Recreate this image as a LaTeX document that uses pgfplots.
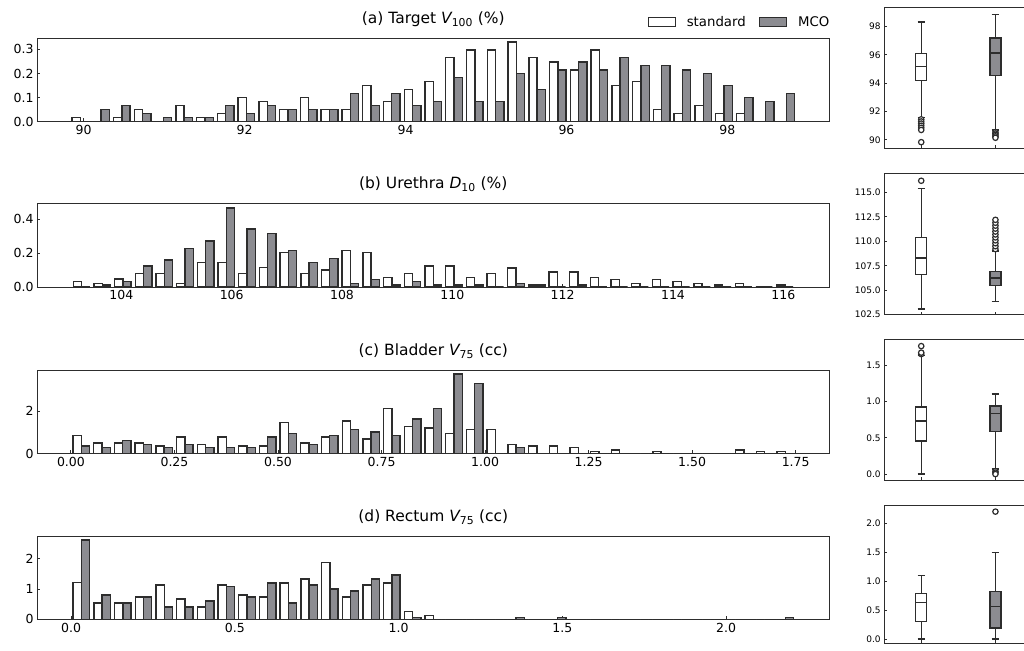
\documentclass[border=0pt]{standalone}
\usepackage{fontspec}
\setmainfont{DejaVu Sans}
\usepackage{pgfplots}
\pgfplotsset{compat=1.18}
\usepackage{pgfplotstable}
\usepgfplotslibrary{statistics}
\definecolor{mcogray}{RGB}{140,140,145}
\definecolor{edge}{RGB}{45,45,45}

\pgfplotstableread{
x s m
89.959 0.017 0
90.217 0 0.050
90.475 0.017 0.066
90.733 0.050 0.033
90.991 0 0.017
91.249 0.066 0.017
91.507 0.017 0.017
91.765 0.033 0.066
92.023 0.100 0.033
92.281 0.083 0.066
92.539 0.050 0.050
92.797 0.100 0.050
93.055 0.050 0.050
93.313 0.050 0.116
93.571 0.149 0.066
93.829 0.083 0.116
94.087 0.133 0.066
94.345 0.166 0.083
94.603 0.265 0.182
94.861 0.298 0.083
95.119 0.298 0.083
95.377 0.331 0.199
95.635 0.265 0.133
95.893 0.248 0.215
96.151 0.215 0.248
96.409 0.298 0.215
96.667 0.149 0.265
96.925 0.166 0.232
97.183 0.050 0.232
97.441 0.033 0.215
97.699 0.066 0.199
97.957 0.033 0.149
98.215 0.033 0.100
98.473 0 0.083
98.731 0 0.116
}\tabA

\pgfplotstableread{
x s m
103.278 0.035 0
103.653 0.022 0.012
104.028 0.047 0.035
104.403 0.081 0.124
104.778 0.081 0.160
105.153 0.022 0.227
105.528 0.146 0.272
105.903 0.146 0.465
106.278 0.081 0.341
106.653 0.114 0.317
107.028 0.203 0.215
107.403 0.081 0.146
107.778 0.102 0.169
108.153 0.215 0.022
108.528 0.203 0.045
108.903 0.057 0.012
109.278 0.081 0.035
109.653 0.124 0.012
110.028 0.124 0.012
110.403 0.057 0.012
110.778 0.079 0
111.153 0.112 0.022
111.528 0.012 0.012
111.903 0.090 0
112.278 0.090 0.012
112.653 0.057 0
113.028 0.045 0
113.403 0.022 0
113.778 0.045 0
114.153 0.035 0
114.528 0.022 0
114.903 0.012 0
115.278 0.022 0
115.653 0 0
116.028 0.012 0
}\tabB

\pgfplotstableread{
x s m
0.025 0.85 0.35
0.075 0.50 0.27
0.125 0.50 0.61
0.175 0.50 0.43
0.225 0.35 0.27
0.275 0.77 0.43
0.325 0.43 0.27
0.375 0.77 0.27
0.425 0.35 0.27
0.475 0.35 0.77
0.525 1.45 0.94
0.575 0.50 0.43
0.625 0.77 0.85
0.675 1.54 1.12
0.725 0.69 1.02
0.775 2.13 0.85
0.825 1.28 1.62
0.875 1.20 2.13
0.925 0.94 3.75
0.975 1.12 3.31
1.025 1.12 0
1.075 0.43 0.27
1.125 0.35 0
1.175 0.35 0
1.225 0.27 0
1.275 0.09 0
1.325 0.17 0
1.375 0 0
1.425 0.09 0
1.475 0 0
1.525 0 0
1.575 0 0
1.625 0.17 0
1.675 0.09 0
1.725 0.09 0
}\tabC

\pgfplotstableread{
x s m
0.0316 1.22 2.62
0.0948 0.54 0.81
0.1580 0.54 0.54
0.2212 0.74 0.74
0.2844 1.14 0.41
0.3476 0.67 0.41
0.4108 0.41 0.61
0.4740 1.14 1.08
0.5372 0.81 0.74
0.6004 0.74 1.20
0.6636 1.20 0.54
0.7268 1.34 1.14
0.7900 1.88 1.00
0.8532 0.74 0.94
0.9164 1.14 1.34
0.9796 1.20 1.47
1.0428 0.27 0.07
1.1060 0.13 0
1.1692 0 0
1.2324 0 0
1.2956 0 0
1.3588 0 0.07
1.4220 0 0
1.4852 0 0.07
1.5484 0 0
1.6116 0 0
1.6748 0 0
1.7380 0 0
1.8012 0 0
1.8644 0 0
1.9276 0 0
1.9908 0 0
2.0540 0 0
2.1172 0 0
2.1804 0 0.07
}\tabD

\tikzset{
  wbox/.style={draw=edge, fill=white, line width=1.3pt},
  gbox/.style={draw=edge, fill=mcogray, line width=1.3pt},
}
\pgfplotsset{
  histax/.style={scale only axis, width=793pt, height=83.4pt, anchor=south west,
    ymin=0, tick align=inside, tick pos=left, major tick length=3.5pt,
    axis line style={draw=edge, line width=0.9pt},
    every tick/.style={draw=edge, line width=0.9pt},
    ticklabel style={font=\fontsize{12.5}{14}\selectfont},
    title style={font=\fontsize{15.5}{17}\selectfont, at={(0.5,1)}, anchor=base, yshift=9pt}},
  boxax/.style={scale only axis, width=139.5pt, height=141pt, anchor=south west,
    axis x line*=box, axis y line*=left,
    xmin=0.5, xmax=2.3788, xtick={1,2}, xticklabels={},
    tick align=inside, tick pos=left, major tick length=3pt,
    axis line style={draw=edge, line width=0.9pt},
    every tick/.style={draw=edge, line width=0.9pt},
    ticklabel style={font=\fontsize{9}{10}\selectfont},
    boxplot/draw direction=y},
  sbar/.style 2 args={ybar, bar width=#1, bar shift=#2, fill=white, draw=edge, line width=1.4pt},
  mbar/.style 2 args={ybar, bar width=#1, bar shift=#2, fill=mcogray, draw=edge, line width=1.4pt},
  rectleg/.style={legend image code/.code={\draw[##1, line width=1.3pt] (0pt,-4.5pt) rectangle (27pt,4.5pt);}},
  bstd/.style={draw=edge, line width=1.3pt, mark=*, mark size=2.7pt,
    mark options={fill=white, draw=edge, line width=1.2pt, solid}},
}

\begin{document}
\begin{tikzpicture}
\path (0pt,0pt) rectangle (1024pt,644pt);

% ---------- (a) ----------
\begin{axis}[histax, at={(37pt,522.3pt)}, xmin=89.42, xmax=99.27, ymax=0.346,
  xtick={90,92,94,96,98}, xticklabels={90,92,94,96,98},
  ytick={0,0.1,0.2,0.3}, yticklabels={0.0,0.1,0.2,0.3},
  title={(a) Target {\itshape V}\textsubscript{100} (\%)},
  legend style={at={(0.770,1.192)}, anchor=west, draw=none, fill=none, inner sep=0pt,
    font=\fontsize{13.3}{15}\selectfont, legend columns=2,
    nodes={inner sep=0pt},
    /tikz/every odd column/.append style={column sep=11pt},
    /tikz/every even column/.append style={column sep=13pt}}]
\addplot[sbar={0.1032}{-0.0516}, rectleg] table[x=x,y=s]{\tabA};
\addlegendentry{standard}
\addplot[mbar={0.1032}{0.0516}, rectleg] table[x=x,y=m]{\tabA};
\addlegendentry{MCO}
\end{axis}

% ---------- (b) ----------
\begin{axis}[histax, at={(37pt,356.7pt)}, xmin=102.47, xmax=116.84, ymax=0.49,
  xtick={104,106,108,110,112,114,116}, xticklabels={104,106,108,110,112,114,116},
  ytick={0,0.2,0.4}, yticklabels={0.0,0.2,0.4},
  title={(b) Urethra {\itshape D}\textsubscript{10} (\%)}]
\addplot[sbar={0.15}{-0.075}] table[x=x,y=s]{\tabB};
\addplot[mbar={0.15}{0.075}] table[x=x,y=m]{\tabB};
\end{axis}

% ---------- (c) ----------
\begin{axis}[histax, at={(37pt,190.3pt)}, xmin=-0.082, xmax=1.832, ymax=3.93,
  xtick={0,0.25,0.5,0.75,1,1.25,1.5,1.75}, xticklabels={0.00,0.25,0.50,0.75,1.00,1.25,1.50,1.75},
  ytick={0,2}, yticklabels={0,2},
  title={(c) Bladder {\itshape V}\textsubscript{75} (cc)}]
\addplot[sbar={0.02}{-0.01}] table[x=x,y=s]{\tabC};
\addplot[mbar={0.02}{0.01}] table[x=x,y=m]{\tabC};
\end{axis}

% ---------- (d) ----------
\begin{axis}[histax, at={(37pt,24.3pt)}, xmin=-0.104, xmax=2.316, ymax=2.75,
  xtick={0,0.5,1,1.5,2}, xticklabels={0.0,0.5,1.0,1.5,2.0},
  ytick={0,1,2}, yticklabels={0,1,2},
  title={(d) Rectum {\itshape V}\textsubscript{75} (cc)}]
\addplot[sbar={0.02528}{-0.01264}] table[x=x,y=s]{\tabD};
\addplot[mbar={0.02528}{0.01264}] table[x=x,y=m]{\tabD};
\end{axis}

% ---------- box plots ----------
\begin{axis}[boxax, at={(884.5pt,495.7pt)}, ymin=89.41, ymax=99.36,
  ytick={90,92,94,96,98}, yticklabels={90,92,94,96,98}]
\addplot[bstd, boxplot prepared={draw position=1, median=95.18, upper quartile=96.12,
  lower quartile=94.2, upper whisker=98.33, lower whisker=91.6, box extend=0.15, whisker extend=0.1,
  every box/.style={wbox}}]
  table[row sep=\\, y index=0]{data\\91.45\\91.3\\91.15\\91.0\\90.85\\90.7\\89.84\\};
\addplot[bstd, boxplot prepared={draw position=2, median=96.14, upper quartile=97.2,
  lower quartile=94.56, upper whisker=98.86, lower whisker=90.7, box extend=0.15, whisker extend=0.1,
  every box/.style={gbox}}]
  table[row sep=\\, y index=0]{data\\90.55\\90.45\\90.35\\90.25\\90.15\\};
\end{axis}

\begin{axis}[boxax, at={(884.5pt,329pt)}, ymin=102.47, ymax=116.9,
  ytick={102.5,105,107.5,110,112.5,115}, yticklabels={102.5,105.0,107.5,110.0,112.5,115.0}]
\addplot[bstd, boxplot prepared={draw position=1, median=108.29, upper quartile=110.38,
  lower quartile=106.58, upper whisker=115.38, lower whisker=103.08, box extend=0.15, whisker extend=0.1,
  every box/.style={wbox}}]
  table[row sep=\\, y index=0]{data\\116.2\\};
\addplot[bstd, boxplot prepared={draw position=2, median=106.24, upper quartile=106.92,
  lower quartile=105.45, upper whisker=109.0, lower whisker=103.84, box extend=0.15, whisker extend=0.1,
  every box/.style={gbox}}]
  table[row sep=\\, y index=0]{data\\109.2\\109.5\\109.8\\110.1\\110.4\\110.7\\111.0\\111.3\\111.6\\111.9\\112.2\\};
\end{axis}

\begin{axis}[boxax, at={(884.5pt,163.3pt)}, ymin=-0.088, ymax=1.85,
  ytick={0,0.5,1,1.5}, yticklabels={0.0,0.5,1.0,1.5}]
\addplot[bstd, boxplot prepared={draw position=1, median=0.732, upper quartile=0.924,
  lower quartile=0.457, upper whisker=1.63, lower whisker=0.0, box extend=0.15, whisker extend=0.1,
  every box/.style={wbox}}]
  table[row sep=\\, y index=0]{data\\1.65\\1.67\\1.76\\};
\addplot[bstd, boxplot prepared={draw position=2, median=0.837, upper quartile=0.937,
  lower quartile=0.59, upper whisker=1.10, lower whisker=0.07, box extend=0.15, whisker extend=0.1,
  every box/.style={gbox}}]
  table[row sep=\\, y index=0]{data\\0.04\\0.02\\0.0\\};
\end{axis}

\begin{axis}[boxax, at={(884.5pt,0.5pt)}, height=138.2pt, ymin=-0.0714, ymax=2.32,
  ytick={0,0.5,1,1.5,2}, yticklabels={0.0,0.5,1.0,1.5,2.0}]
\addplot[bstd, boxplot prepared={draw position=1, median=0.632, upper quartile=0.793,
  lower quartile=0.305, upper whisker=1.098, lower whisker=0.0, box extend=0.15, whisker extend=0.1,
  every box/.style={wbox}}]
  coordinates {};
\addplot[bstd, boxplot prepared={draw position=2, median=0.569, upper quartile=0.828,
  lower quartile=0.19, upper whisker=1.5, lower whisker=0.0, box extend=0.15, whisker extend=0.1,
  every box/.style={gbox}}]
  table[row sep=\\, y index=0]{data\\2.207\\};
\end{axis}
\end{tikzpicture}
\end{document}
